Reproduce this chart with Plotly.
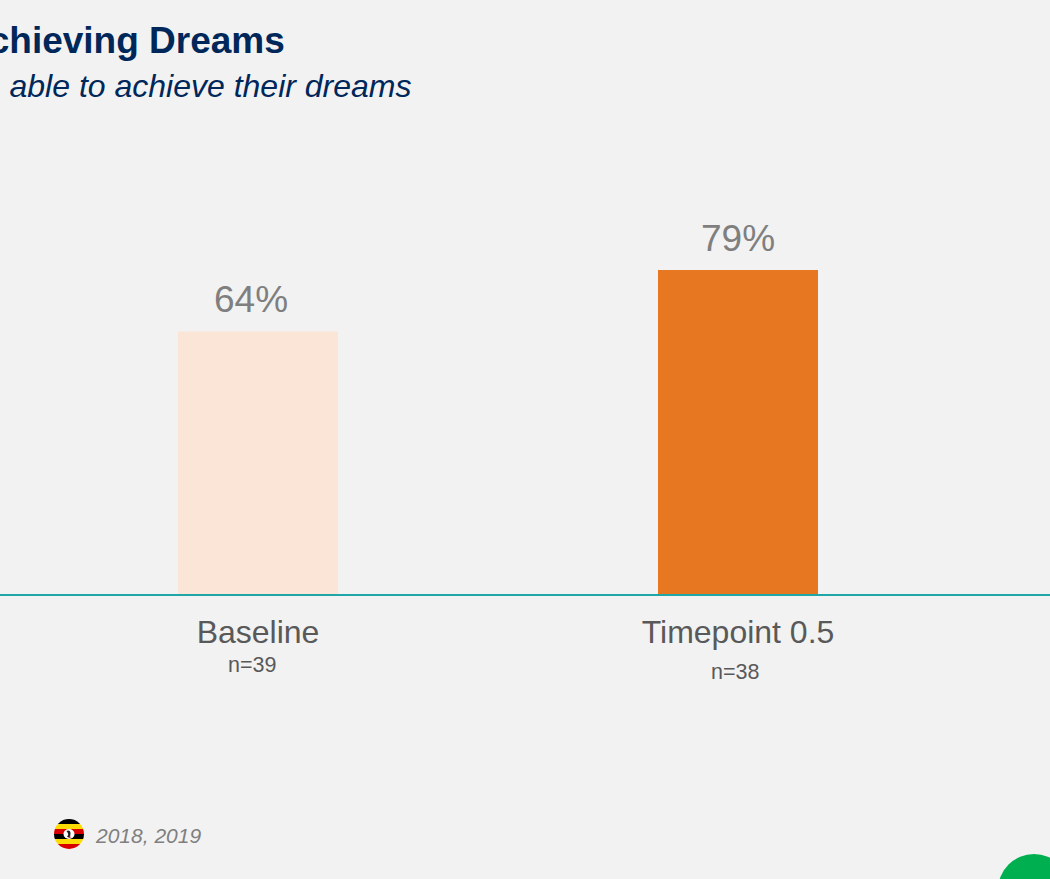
import base64
import plotly.graph_objects as go

categories = ["Baseline", "Timepoint 0.5"]
values = [64, 79]
sample_sizes = ["n=39", "n=38"]
bar_colors = ["#FBE5D6", "#E87722"]
title_text = "Achieving Dreams"
subtitle_text = "be able to achieve their dreams"
years_text = "2018, 2019"

W, H = 1050, 879
BASE_Y = 594
PX_PER_UNIT = 4.1
CENTERS = (258, 738)
STEP = CENTERS[1] - CENTERS[0]


def px(x):
    return x / W


def py(y):
    return 1 - y / H


FONT = "Liberation Sans, Arial, sans-serif"
NAVY = "#002759"

# Uganda flag roundel, six horizontal stripes clipped to a circle
flag_svg = """<svg xmlns='http://www.w3.org/2000/svg' width='60' height='60' viewBox='0 0 60 60'>
<defs><clipPath id='c'><circle cx='30' cy='30' r='30'/></clipPath></defs>
<g clip-path='url(#c)'>
<rect width='60' height='10' y='0' fill='#000'/>
<rect width='60' height='10' y='10' fill='#FCDC04'/>
<rect width='60' height='10' y='20' fill='#D90000'/>
<rect width='60' height='10' y='30' fill='#000'/>
<rect width='60' height='10' y='40' fill='#FCDC04'/>
<rect width='60' height='10' y='50' fill='#D90000'/>
<ellipse cx='30' cy='30' rx='11' ry='10' fill='#fff'/>
<path d='M25 24 q8 -3 8 5 q1 5 -4 8 l-3 -2 q4 -3 2 -6 q-1 -3 -3 -5 z' fill='#222'/>
<path d='M31 33 l3 4 l-5 1 z' fill='#D90000'/>
</g></svg>"""
flag_uri = "data:image/svg+xml;base64," + base64.b64encode(flag_svg.encode()).decode()

fig = go.Figure(
    go.Bar(
        x=[0, 1],
        y=values,
        width=160 / STEP,
        marker=dict(color=bar_colors, line_width=0),
        hoverinfo="skip",
    )
)

annotations = []

# Value labels above the bars
for i, (v, dx, lift) in enumerate(zip(values, (-7, 0), (10, 9))):
    annotations.append(dict(
        x=i, y=v, xref="x", yref="y", text=f"{v}%", showarrow=False,
        xanchor="center", yanchor="bottom", xshift=dx, yshift=lift,
        font=dict(family=FONT, size=37, color="#7F7F7F"),
    ))

# Sample sizes below the category labels
for i, (n, dx, top) in enumerate(zip(sample_sizes, (-6, -3), (651.5, 658.5))):
    annotations.append(dict(
        x=i, xref="x", y=py(top), yref="paper", text=n, showarrow=False,
        xanchor="center", yanchor="top", xshift=dx,
        font=dict(family=FONT, size=21.5, color="#595959"), borderpad=0,
    ))

# Heading lines, right-anchored so they run off the left edge of the page
annotations += [
    dict(x=px(287), y=py(40), xref="paper", yref="paper", text=f"<b>{title_text}</b>",
         showarrow=False, xanchor="right", yanchor="middle",
         font=dict(family=FONT, size=37, color=NAVY)),
    dict(x=px(413), y=py(86), xref="paper", yref="paper", text=f"<i>{subtitle_text}</i>",
         showarrow=False, xanchor="right", yanchor="middle",
         font=dict(family=FONT, size=32, color=NAVY)),
    dict(x=px(93), y=py(835), xref="paper", yref="paper", text=f"<i>{years_text}</i>",
         showarrow=False, xanchor="left", yanchor="middle",
         font=dict(family=FONT, size=21, color="#7F7F7F")),
]

fig.update_layout(
    width=W,
    height=H,
    margin=dict(l=0, r=0, t=0, b=0),
    paper_bgcolor="#F2F2F2",
    plot_bgcolor="#F2F2F2",
    showlegend=False,
    annotations=annotations,
    shapes=[dict(
        type="circle", xref="paper", yref="paper", layer="above",
        x0=px(998), x1=px(1070), y0=py(926), y1=py(854),
        fillcolor="#00B050", line_width=0,
    )],
    images=[dict(
        source=flag_uri, xref="paper", yref="paper",
        x=px(54), y=py(819), sizex=30 / W, sizey=30 / H,
        xanchor="left", yanchor="top", sizing="stretch", layer="above",
    )],
    xaxis=dict(
        range=[-CENTERS[0] / STEP, (W - CENTERS[0]) / STEP],
        tickmode="array",
        tickvals=[0, 1],
        ticktext=categories,
        tickfont=dict(family=FONT, size=32, color="#595959"),
        ticks="outside",
        ticklen=9,
        tickcolor="rgba(0,0,0,0)",
        showgrid=False,
        zeroline=False,
        showline=True,
        linecolor="#1FA7A7",
        linewidth=2,
        fixedrange=True,
    ),
    yaxis=dict(
        domain=[(H - BASE_Y) / H, 1],
        range=[0, BASE_Y / PX_PER_UNIT],
        visible=False,
        fixedrange=True,
    ),
)

fig.write_html("out.html", config={"displayModeBar": False})
